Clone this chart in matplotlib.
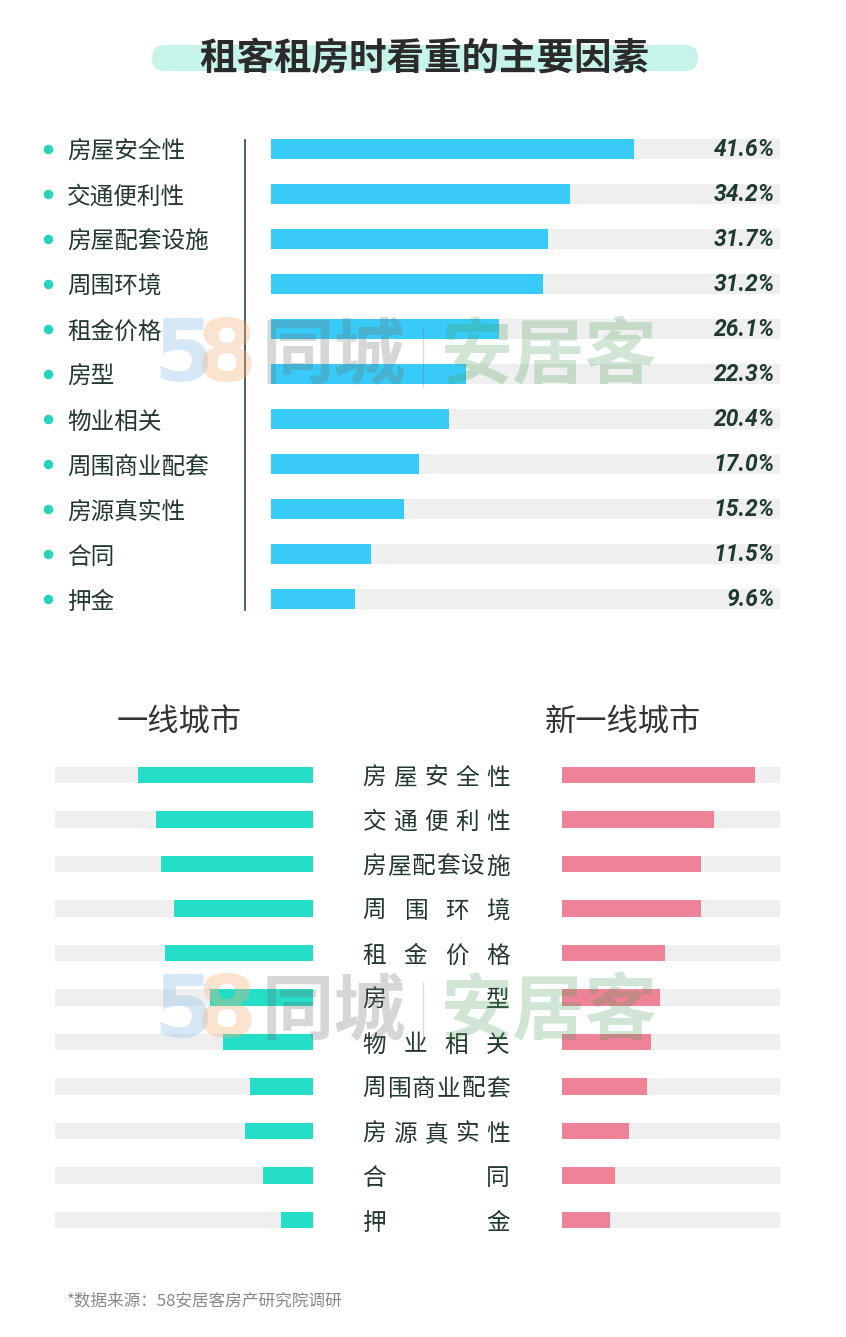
import matplotlib
matplotlib.use("Agg")
import matplotlib.pyplot as plt
from matplotlib.patches import FancyBboxPatch
from matplotlib.transforms import blended_transform_factory as blend

plt.rcParams['font.family'] = ['Noto Sans CJK SC', 'DejaVu Sans']

factors = ["房屋安全性", "交通便利性", "房屋配套设施", "周围环境", "租金价格", "房型",
           "物业相关", "周围商业配套", "房源真实性", "合同", "押金"]
share_all = [41.6, 34.2, 31.7, 31.2, 26.1, 22.3, 20.4, 17.0, 15.2, 11.5, 9.6]
# bottom chart has no printed values
share_tier1 = [40.7, 36.5, 35.3, 32.3, 34.4, 24.0, 20.9, 14.7, 15.8, 11.6, 7.4]
share_new_tier1 = [44.9, 35.3, 32.3, 32.3, 24.0, 22.8, 20.7, 19.8, 15.6, 12.3, 11.2]

W, H = 846, 1337
fig = plt.figure(figsize=(W / 100, H / 100), dpi=100)
fig.patch.set_facecolor("white")

BLUE = "#38cbf8"
TEAL = "#24dec8"
PINK = "#ee8296"
TRACK = "#efefef"
LABEL = "#22382f"


def px_axes(x0, y0, x1, y1):
    ax = fig.add_axes([x0 / W, 1 - y1 / H, (x1 - x0) / W, (y1 - y0) / H])
    ax.axis("off")
    return ax


# overlay in pixel coords for decorations
deco = fig.add_axes([0, 0, 1, 1], zorder=10)
deco.set_xlim(0, W)
deco.set_ylim(H, 0)
deco.axis("off")
deco.patch.set_alpha(0)

# ---- title ----
deco.add_patch(FancyBboxPatch((152, 45), 546, 26, boxstyle="round,pad=0,rounding_size=13",
                              fc="#c6f4eb", ec="none", zorder=1))
deco.text(424, 59, "租客租房时看重的主要因素", ha="center", va="center",
          fontsize=27, fontweight="heavy", color="#2b2b2b", zorder=2)

# ---- top chart ----
n = len(factors)
ax = px_axes(271, 126.5, 780, 621.5)
ax.set_xlim(0, 58.3)
ax.set_ylim(n - 0.5, -0.5)
ys = list(range(n))
ax.barh(ys, [ax.get_xlim()[1]] * n, height=0.44, color=TRACK)
ax.barh(ys, share_all, height=0.44, color=BLUE)

tr = blend(deco.transData, ax.transData)
for i, (lab, v) in enumerate(zip(factors, share_all)):
    ax.scatter([48], [i], s=34, color="#26d3bd", transform=tr, clip_on=False, zorder=3)
    ax.text(67, i + 0.07, lab, transform=tr, ha="left", va="center", fontsize=17, color=LABEL)
    ax.text(775, i + 0.02, f"{v:.1f}%", transform=tr, ha="right", va="center",
            fontsize=16.5, fontweight="bold", fontstyle="italic", family="Roboto", color="#1f3a31")
ax.plot([245, 245], [-0.2, n - 0.75], transform=tr, color="#2f4a40", lw=1.2, clip_on=False)

# ---- bottom chart ----
axL = px_axes(55, 752.75, 313, 1242.25)
axL.set_xlim(60, 0)
axL.set_ylim(n - 0.5, -0.5)
axL.barh(ys, [60] * n, height=0.36, color=TRACK)
axL.barh(ys, share_tier1, height=0.36, color=TEAL)

axR = px_axes(562, 752.75, 780, 1242.25)
axR.set_xlim(0, 50.7)
axR.set_ylim(n - 0.5, -0.5)
axR.barh(ys, [50.7] * n, height=0.36, color=TRACK)
axR.barh(ys, share_new_tier1, height=0.36, color=PINK)

deco.text(179, 723, "一线城市", ha="center", va="center", fontsize=22.5, fontweight="medium",
          color="#333333")
deco.text(623, 723, "新一线城市", ha="center", va="center", fontsize=22.5, fontweight="medium",
          color="#333333")

# justified middle labels
trm = blend(deco.transData, axL.transData)
left, right, cw = 362, 510, 24.5
for i, lab in enumerate(factors):
    k = len(lab)
    step = (right - left - cw) / (k - 1)
    for j, ch in enumerate(lab):
        axL.text(left + cw / 2 + j * step, i + 0.07, ch, transform=trm, ha="center", va="center",
                 fontsize=17, color=LABEL, clip_on=False)

# ---- watermarks ----
for yc in (357, 1013):
    deco.text(183, yc, "5", ha="center", va="center", fontsize=62, color="#8cbfe8", alpha=0.35,
              family="DejaVu Sans", fontweight="bold", zorder=5)
    deco.text(227, yc, "8", ha="center", va="center", fontsize=62, color="#f2b27a", alpha=0.35,
              family="DejaVu Sans", fontweight="bold", zorder=5)
    deco.text(334, yc, "同城", ha="center", va="center", fontsize=52, fontweight="bold",
              color="#6e6e6e", alpha=0.28, zorder=5)
    deco.plot([423, 423], [yc - 30, yc + 30], color="#6e6e6e", alpha=0.25, lw=1, zorder=5)
    deco.text(549, yc, "安居客", ha="center", va="center", fontsize=52, fontweight="bold",
              color="#4a9e55", alpha=0.26, zorder=5)

# ---- footer ----
deco.text(67, 1301, "*数据来源：58安居客房产研究院调研", ha="left", va="center",
          fontsize=12, color="#888888")

fig.savefig("out.png", dpi=100)
